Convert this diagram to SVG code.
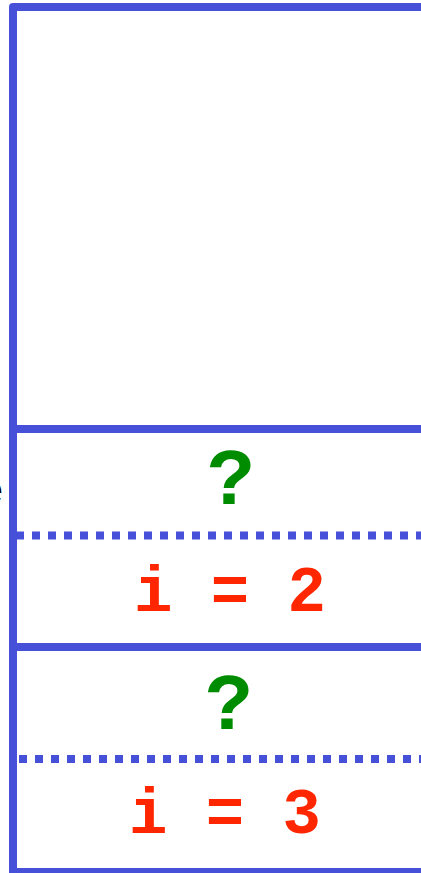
<svg xmlns="http://www.w3.org/2000/svg" width="421" height="873" viewBox="0 0 421 873">
<style>
.frame{fill:none;stroke:#4650d8;stroke-width:8;stroke-linejoin:round}
.dot{fill:none;stroke:#4650d8;stroke-width:8;stroke-dasharray:8 8}
.q{font-family:"Liberation Mono",monospace;font-weight:bold;fill:#008c00;text-anchor:middle}
.v{font-family:"Liberation Mono",monospace;font-weight:bold;fill:#ff2600;text-anchor:middle}
</style>
<rect width="421" height="873" fill="#ffffff"/>
<g id="connectors">
<path class="frame" d="M425 7 H13 V877"/>
<path class="frame" d="M13 429 H425"/>
<path class="frame" d="M13 647 H425"/>
<path class="frame" d="M13 872 H425"/>
<path class="dot" d="M16 535.5 H425"/>
<path class="dot" d="M19 759 H425"/>
</g>
<g id="label-left"><text x="3" y="503" font-family="Liberation Sans, sans-serif" font-size="38" text-anchor="end" fill="#000">e</text></g>
<g id="cell1-q"><text class="q" x="231" y="504" font-size="80">?</text></g>
<g id="cell1-v"><text class="v" x="230" y="611" font-size="64">i = 2</text></g>
<g id="cell2-q"><text class="q" x="229" y="729" font-size="80">?</text></g>
<g id="cell2-v"><text class="v" x="225" y="833" font-size="64">i = 3</text></g>
</svg>
